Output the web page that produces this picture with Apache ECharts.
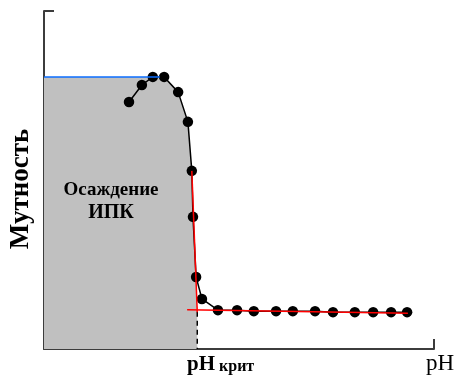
<!DOCTYPE html>
<html><head><meta charset="utf-8">
<script src="https://cdn.jsdelivr.net/npm/echarts@6/dist/echarts.min.js"></script>
<style>html,body{margin:0;padding:0;background:#fff}#c{width:460px;height:378px}</style>
</head><body><div id="c"></div>
<script>
// measured turbidity curve (pH in arbitrary units 0..100, turbidity 0..100)
const curveX = [21.8, 25.1, 27.9, 30.8, 34.4, 36.9, 37.9, 38.2, 39.0, 40.5, 44.6, 49.5, 53.8, 59.5, 63.8, 69.5, 74.1, 79.7, 84.4, 89.0, 93.1];
const curveY = [73.1, 78.1, 80.5, 80.5, 76.0, 67.2, 52.7, 39.1, 21.3, 14.8, 11.5, 11.5, 11.2, 11.2, 11.2, 11.2, 10.9, 10.9, 10.9, 10.9, 10.9];
// precipitation region boundary (gray)
const areaX = [0, 30.8, 34.4, 36.9, 37.9, 38.2, 39.0, 39.3, 39.3];
const areaY = [80.5, 80.5, 76.0, 67.2, 52.7, 39.1, 21.3, 11.0, 0];
// maximum turbidity level (blue)
const maxX = [0, 29.7];
const maxY = [80.5, 80.5];
// tangent lines (red)
const steepX = [37.9, 39.3];
const steepY = [52.7, 10.9];
const flatX = [36.7, 93.3];
const flatY = [11.6, 10.6];
// critical pH marker
const critX = [39.3, 39.3];
const critY = [11.0, 0];
const yName = 'Мутность';
const xName = 'pH';
const critName = 'pH';
const critSub = 'крит';
const regionText = ['Осаждение', 'ИПК'];

const zip = (a, b) => a.map((v, i) => [v, b[i]]);
const axisCol = '#3c3c3c';
const chart = echarts.init(document.getElementById('c'));
chart.setOption({
  animation: false,
  grid: {left: 44, right: 26, top: 11, bottom: 29},
  xAxis: {type: 'value', min: 0, max: 100, interval: 100,
    axisLine: {show: true, lineStyle: {color: axisCol, width: 2}},
    axisTick: {show: true, inside: true, length: 10, lineStyle: {color: axisCol, width: 2}},
    axisLabel: {show: false}, splitLine: {show: false}},
  yAxis: {type: 'value', min: 0, max: 100, interval: 100,
    axisLine: {show: true, lineStyle: {color: axisCol, width: 2}},
    axisTick: {show: true, inside: true, length: 10, lineStyle: {color: axisCol, width: 2}},
    axisLabel: {show: false}, splitLine: {show: false}},
  series: [
    {type: 'line', data: zip(areaX, areaY), symbol: 'none', lineStyle: {width: 0},
     areaStyle: {color: '#c0c0c0', opacity: 1}, z: 1},
    {type: 'line', data: zip(critX, critY), symbol: 'none',
     lineStyle: {color: '#000', width: 1.5, type: [5, 4]}, z: 2},
    {type: 'line', data: zip(curveX, curveY), symbol: 'circle', symbolSize: 10.5,
     itemStyle: {color: '#000'}, lineStyle: {color: '#000', width: 1.5}, z: 3},
    {type: 'line', data: zip(maxX, maxY), symbol: 'none',
     lineStyle: {color: '#0a6cff', width: 1.5}, z: 4},
    {type: 'line', data: zip(steepX, steepY), symbol: 'none',
     lineStyle: {color: '#ff0000', width: 1.5}, z: 4},
    {type: 'line', data: zip(flatX, flatY), symbol: 'none',
     lineStyle: {color: '#ff0000', width: 1.5}, z: 4}
  ],
  graphic: [
    {type: 'text', x: 21, y: 189, rotation: Math.PI / 2, z: 100,
     style: {text: yName, font: 'bold 27px "Liberation Serif"', fill: '#000', align: 'center', verticalAlign: 'middle'}},
    {type: 'text', x: 111, y: 190, z: 100,
     style: {text: regionText[0], font: 'bold 19px "Liberation Serif"', fill: '#000', align: 'center', verticalAlign: 'middle'}},
    {type: 'text', x: 111, y: 213, z: 100,
     style: {text: regionText[1], font: 'bold 20px "Liberation Serif"', fill: '#000', align: 'center', verticalAlign: 'middle'}},
    {type: 'text', x: 187, y: 375, z: 100,
     style: {text: '{a|' + critName + '}{b| ' + critSub + '}', fill: '#000', align: 'left', verticalAlign: 'bottom',
       rich: {a: {font: 'bold 21px "Liberation Serif"', fill: '#000', verticalAlign: 'bottom'},
              b: {font: 'bold 16px "Liberation Serif"', fill: '#000', verticalAlign: 'bottom'}}}},
    {type: 'text', x: 426, y: 375, z: 100,
     style: {text: xName, font: '23px "Liberation Serif"', fill: '#000', align: 'left', verticalAlign: 'bottom'}}
  ]
});
</script></body></html>
